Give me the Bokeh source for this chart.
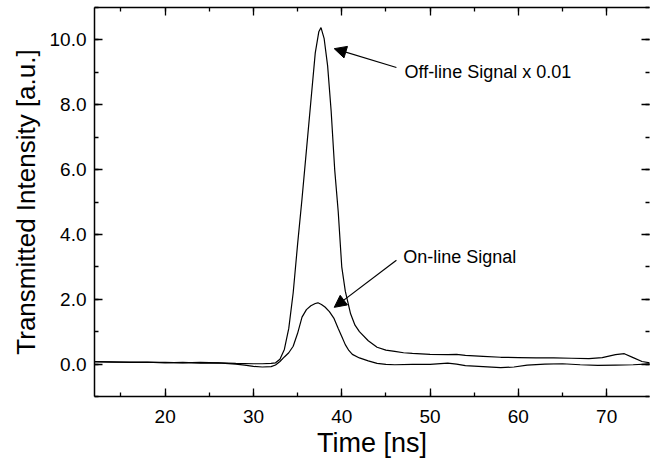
from bokeh.plotting import figure
from bokeh.models import (LinearAxis, SingleIntervalTicker, NumeralTickFormatter,
                          Range1d, Label, Arrow, NormalHead, CustomLabelingPolicy)
from bokeh.embed import file_html
from bokeh.resources import INLINE

# ---- data ----
offline_t = [12, 14, 16, 18, 20, 22, 24, 26, 28, 30, 31, 32, 32.5, 33.0, 33.5, 34.0, 34.5,
             35.0, 35.5, 36.0, 36.5, 37.0, 37.4, 37.65, 38.0, 38.4, 38.8, 39.2, 39.6, 40.0,
             40.4, 41.0, 41.5, 42.0, 43.0, 44.0, 45.0, 46.0, 47.0, 48.0, 50.0, 52.0, 53.0,
             54.0, 56.0, 58.0, 60.0, 62.0, 64.0, 66.0, 68.0, 69.5, 71.0, 72.0, 73.0, 74.0, 75.0]
offline_v = [0.07, 0.06, 0.06, 0.05, 0.05, 0.04, 0.05, 0.04, 0.02, 0.01, 0.01, 0.02, 0.04,
             0.15, 0.45, 1.10, 2.20, 3.70, 5.10, 6.60, 8.10, 9.60, 10.25, 10.38, 10.05, 9.20,
             7.80, 6.00, 4.70, 3.00, 2.25, 1.55, 1.20, 1.00, 0.72, 0.52, 0.43, 0.39, 0.35,
             0.33, 0.30, 0.29, 0.30, 0.27, 0.24, 0.21, 0.20, 0.19, 0.19, 0.18, 0.17, 0.20,
             0.29, 0.32, 0.20, 0.08, 0.03]

online_t = [12, 14, 16, 18, 20, 22, 24, 26, 28, 29, 30, 31, 32, 32.5, 33.0, 33.5, 34.0, 34.5,
            35.0, 35.5, 36.0, 36.5, 37.0, 37.3, 37.7, 38.1, 38.6, 39.1, 39.6, 40.0, 40.4,
            40.8, 41.2, 42.0, 43.0, 44.0, 45.0, 46.0, 48.0, 50.0, 52.0, 53.0, 54.0, 56.0,
            58.0, 59.5, 61.0, 63.0, 65.0, 67.0, 69.0, 71.0, 73.0, 75.0]
online_v = [0.08, 0.07, 0.05, 0.06, 0.04, 0.05, 0.03, 0.04, 0.00, -0.03, -0.07, -0.09, -0.08,
            -0.03, 0.08, 0.22, 0.35, 0.55, 0.95, 1.45, 1.68, 1.80, 1.87, 1.89, 1.84, 1.76,
            1.62, 1.42, 1.10, 0.85, 0.60, 0.42, 0.30, 0.19, 0.10, 0.02, -0.01, -0.02, -0.01,
            -0.01, 0.03, 0.00, -0.05, -0.08, -0.11, -0.09, -0.03, 0.00, 0.01, -0.02, -0.04,
            -0.03, -0.02, 0.01]

x_title = "Time [ns]"
y_title = "Transmitted Intensity [a.u.]"
offline_label = "Off-line Signal x 0.01"
online_label = "On-line Signal"

FONT = "Liberation Sans"

p = figure(width=653, height=468, output_backend="svg", toolbar_location=None,
           x_range=Range1d(12, 74.85), y_range=Range1d(-1.0, 11.0),
           min_border_left=94, min_border_right=0, min_border_top=7, min_border_bottom=72,
           x_axis_label=x_title, y_axis_label=y_title)

p.grid.visible = False
p.background_fill_color = "white"
p.border_fill_color = "white"
p.outline_line_color = None

p.line(offline_t, offline_v, line_color="black", line_width=1.2)
p.line(online_t, online_v, line_color="black", line_width=1.2)


def style(ax, labels=True, title_size="27px", line=True):
    ax.axis_line_color = "black" if line else None
    ax.axis_line_width = 1.5
    ax.major_tick_in = 8
    ax.major_tick_out = 0
    ax.minor_tick_in = 4
    ax.minor_tick_out = 0
    ax.major_tick_line_width = 1.3
    ax.minor_tick_line_width = 1.3
    ax.major_tick_line_color = "black"
    ax.minor_tick_line_color = "black"
    if labels:
        ax.major_label_text_font = FONT
        ax.major_label_text_font_size = "19px"
        ax.major_label_text_color = "black"
        ax.axis_label_text_font = FONT
        ax.axis_label_text_font_size = title_size
        ax.axis_label_text_font_style = "normal"
        ax.axis_label_text_color = "black"
    else:
        ax.major_label_text_font_size = "1px"
        ax.major_label_standoff = 0
        ax.major_label_policy = CustomLabelingPolicy(code="return [];")


xa = p.xaxis[0]
xa.ticker = SingleIntervalTicker(interval=10, num_minor_ticks=2)
style(xa)
xa.major_label_standoff = 13
xa.axis_label_standoff = 2

ya = p.yaxis[0]
ya.ticker = SingleIntervalTicker(interval=2, num_minor_ticks=2)
ya.formatter = NumeralTickFormatter(format="0.0")
style(ya, title_size="26px")
ya.major_label_standoff = 8
ya.axis_label_standoff = 6

top = LinearAxis(ticker=SingleIntervalTicker(interval=10, num_minor_ticks=2))
style(top, labels=False)
p.add_layout(top, "above")
right = LinearAxis(ticker=SingleIntervalTicker(interval=2, num_minor_ticks=2))
style(right, labels=False, line=False)
p.add_layout(right, "right")

head1 = NormalHead(size=12, fill_color="black", line_color="black", line_width=1)
p.add_layout(Arrow(end=head1, x_start=46.19, y_start=9.15, x_end=39.15, y_end=9.73,
                   line_color="black", line_width=1.2))
head2 = NormalHead(size=12, fill_color="black", line_color="black", line_width=1)
p.add_layout(Arrow(end=head2, x_start=46.19, y_start=3.20, x_end=39.15, y_end=1.75,
                   line_color="black", line_width=1.2))

p.add_layout(Label(x=47.1, y=9.0, text=offline_label, text_font=FONT, text_font_size="18px",
                   text_baseline="middle", text_align="left", text_color="black"))
p.add_layout(Label(x=46.95, y=3.3, text=online_label, text_font=FONT, text_font_size="18px",
                   text_baseline="middle", text_align="left", text_color="black"))

open("out.html", "w").write(file_html(p, INLINE))
